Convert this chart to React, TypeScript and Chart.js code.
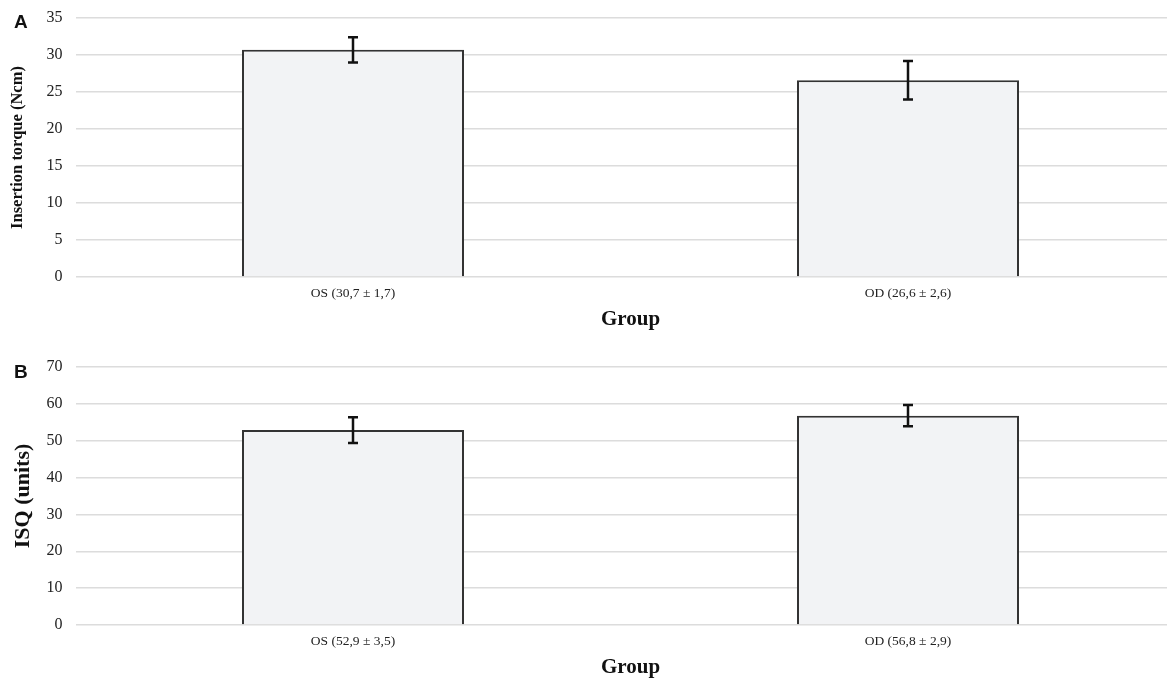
import React, { useEffect, useRef } from "react";
import { Chart, registerables } from "chart.js";

Chart.register(...registerables);

const categoriesA = ["OS (30,7 ± 1,7)", "OD (26,6 ± 2,6)"];
const meansA = [30.7, 26.6];
const sdA = [1.7, 2.6];

const categoriesB = ["OS (52,9 ± 3,5)", "OD (56,8 ± 2,9)"];
const meansB = [52.9, 56.8];
const sdB = [3.5, 2.9];

const SERIF = "'Liberation Serif', 'Times New Roman', serif";

const errorBarPlugin = {
  id: "errorBars",
  afterDatasetsDraw(chart: any, _args: any, opts: any) {
    const sds: number[] = opts.sd || [];
    const meta = chart.getDatasetMeta(0);
    const yScale = chart.scales.y;
    const ds = chart.data.datasets[0].data as number[];
    const ctx = chart.ctx;
    ctx.save();
    ctx.strokeStyle = "#111";
    ctx.lineWidth = 2.5;
    meta.data.forEach((bar: any, i: number) => {
      const x = bar.x;
      const top = yScale.getPixelForValue(ds[i] + sds[i]);
      const bot = yScale.getPixelForValue(ds[i] - sds[i]);
      ctx.beginPath();
      ctx.moveTo(x, top);
      ctx.lineTo(x, bot);
      ctx.moveTo(x - 5, top);
      ctx.lineTo(x + 5, top);
      ctx.moveTo(x - 5, bot);
      ctx.lineTo(x + 5, bot);
      ctx.stroke();
    });
    ctx.restore();
  },
};

type PanelProps = {
  labels: string[];
  means: number[];
  sds: number[];
  yMax: number;
  yStep: number;
  yTitle: string;
  yTitleSize: number;
  yTitlePad: number;
  padTop: number;
  xAxisHeight: number;
  tickPadX: number;
  groupPadBottom: number;
  groupLineHeight: number;
  width: number;
  height: number;
};

function Panel(p: PanelProps) {
  const ref = useRef<HTMLCanvasElement>(null);
  useEffect(() => {
    if (!ref.current) return;
    const chart = new Chart(ref.current, {
      type: "bar",
      data: {
        labels: p.labels,
        datasets: [
          {
            data: p.means,
            backgroundColor: "#f2f3f5",
            borderColor: "#333",
            borderWidth: 2,
            categoryPercentage: 1,
            barPercentage: 0.4,
          },
        ],
      },
      plugins: [errorBarPlugin],
      options: {
        responsive: false,
        animation: false,
        devicePixelRatio: 1,
        layout: { padding: { top: p.padTop, left: 0, right: 4.5, bottom: 0 } },
        plugins: {
          legend: { display: false },
          tooltip: { enabled: false },
          errorBars: { sd: p.sds },
        } as any,
        scales: {
          x: {
            grid: { display: false, drawTicks: false },
            border: { display: false },
            ticks: {
              padding: p.tickPadX,
              color: "#222",
              font: { family: SERIF, size: 13.5 },
            },
            title: {
              display: true,
              text: "Group",
              color: "#111",
              font: { family: SERIF, size: 21, weight: "bold", lineHeight: p.groupLineHeight },
              padding: { top: 0, bottom: p.groupPadBottom },
            },
            afterFit(scale: any) {
              scale.height = p.xAxisHeight;
              scale.paddingLeft = 0;
              scale.paddingRight = 0;
            },
          },
          y: {
            min: 0,
            max: p.yMax,
            grid: { color: "#dcdcdc", lineWidth: 1.5, drawTicks: false },
            border: { display: false },
            ticks: {
              stepSize: p.yStep,
              padding: 13,
              color: "#222",
              font: { family: SERIF, size: 16 },
            },
            title: {
              display: true,
              text: p.yTitle,
              color: "#111",
              font: { family: SERIF, size: p.yTitleSize, weight: "bold", lineHeight: 1.2 },
              padding: { top: p.yTitlePad, bottom: 0 },
            },
            afterFit(scale: any) {
              scale.width = 75.5;
              scale.paddingTop = 0;
              scale.paddingBottom = 0;
            },
          },
        },
      },
    });
    return () => chart.destroy();
  }, []);
  return <canvas ref={ref} width={p.width} height={p.height} style={{ display: "block" }} />;
}

const panelLetter: React.CSSProperties = {
  position: "absolute",
  left: 14,
  fontFamily: "'Liberation Sans', Arial, sans-serif",
  fontWeight: "bold",
  fontSize: 19,
  lineHeight: "20px",
  color: "#111",
};

export default function App() {
  return (
    <div
      style={{
        position: "absolute",
        left: 0,
        top: 0,
        width: 1167,
        height: 678,
        overflow: "hidden",
        background: "#fff",
      }}
    >
      <div style={{ position: "absolute", left: 0, top: 0 }}>
        <Panel
          labels={categoriesA}
          means={meansA}
          sds={sdA}
          yMax={35}
          yStep={5}
          yTitle="Insertion torque (Ncm)"
          yTitleSize={16.5}
          yTitlePad={8}
          padTop={18}
          xAxisHeight={63}
          tickPadX={8.5}
          groupPadBottom={8}
          groupLineHeight={1.2}
          width={1190}
          height={340}
        />
      </div>
      <div style={{ position: "absolute", left: 0, top: 340 }}>
        <Panel
          labels={categoriesB}
          means={meansB}
          sds={sdB}
          yMax={70}
          yStep={10}
          yTitle="ISQ (units)"
          yTitleSize={22}
          yTitlePad={10.5}
          padTop={27}
          xAxisHeight={53}
          tickPadX={8}
          groupPadBottom={0}
          groupLineHeight={1.0}
          width={1190}
          height={338}
        />
      </div>
      <div style={{ ...panelLetter, top: 12 }}>A</div>
      <div style={{ ...panelLetter, top: 362 }}>B</div>
    </div>
  );
}
